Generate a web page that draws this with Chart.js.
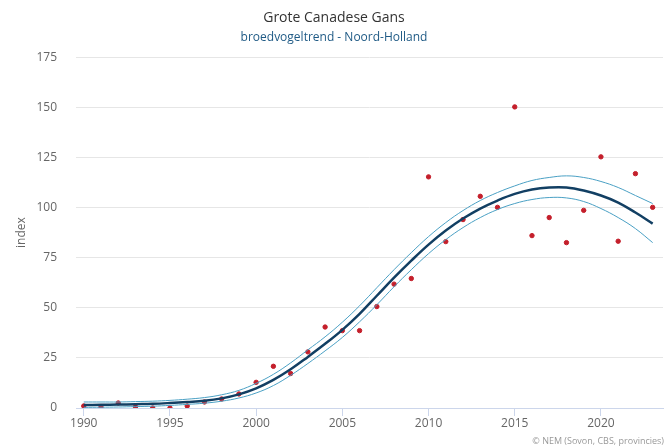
<!DOCTYPE html>
<html>
<head>
<meta charset="utf-8">
<script src="https://cdn.jsdelivr.net/npm/chart.js@4"></script>
<style>
  html, body { margin: 0; padding: 0; background: #fff; }
  #wrap { width: 668px; height: 448px; }
</style>
</head>
<body>
<div id="wrap"><canvas id="trendChart" width="668" height="448"></canvas></div>
<script>
"use strict";

const years = [1990, 1991, 1992, 1993, 1994, 1995, 1996, 1997, 1998, 1999,
  2000, 2001, 2002, 2003, 2004, 2005, 2006, 2007, 2008, 2009,
  2010, 2011, 2012, 2013, 2014, 2015, 2016, 2017, 2018, 2019,
  2020, 2021, 2022, 2023];

// counted index per year (red dots)
const counted = [1, 0.5, 2.5, 0.5, 0, 0, 1, 3, 4.5, 7,
  12.8, 20.8, 17.2, 28, 40.4, 38.6, 38.6, 50.6, 61.8, 64.6,
  115.3, 83, 94, 105.6, 100.1, 150.2, 86, 95, 82.5, 98.6,
  125.3, 83.2, 116.9, 100.1];

// smoothed trend and its confidence band
const trend = [1.5, 1.6, 1.7, 1.9, 2.1, 2.5, 3.0, 3.6, 4.8, 6.8,
  9.8, 14, 19.3, 25.5, 32, 39, 47, 56, 65, 73.5,
  81.5, 88.5, 94.5, 99.5, 103.5, 106.8, 109, 110, 110, 108.5,
  106, 102.5, 97.5, 92];
const upper = [3, 3, 3, 3.2, 3.4, 3.8, 4.4, 5.2, 6.6, 8.8,
  12.3, 16.8, 22.5, 29, 35.5, 42.8, 51, 60, 69, 77.5,
  85.5, 92.5, 98.5, 103.5, 107.5, 110.8, 113.5, 115, 115.8, 115,
  113, 110, 106, 102];
const lower = [0.3, 0.4, 0.5, 0.7, 0.9, 1.3, 1.8, 2.4, 3.4, 5,
  7.5, 11.2, 16.3, 22.2, 28.5, 35.2, 43, 51.5, 60.5, 69,
  77, 84, 90, 95, 99, 102, 104, 105, 104.8, 103,
  99.5, 95, 89.5, 82.5];

const xTicks = [1990, 1995, 2000, 2005, 2010, 2015, 2020];
const yTicks = [0, 25, 50, 75, 100, 125, 150, 175];

function pts(vals) {
  return years.map((y, i) => ({ x: y, y: vals[i] }));
}

const creditPlugin = {
  id: "credit",
  afterDraw(chart) {
    const ctx = chart.ctx;
    ctx.save();
    ctx.font = "9px 'Open Sans'";
    ctx.fillStyle = "#999999";
    ctx.textAlign = "right";
    ctx.textBaseline = "middle";
    ctx.fillText("\u00A9 NEM (Sovon, CBS, provincies)", 664, 441);
    ctx.restore();
  }
};

const bandStyle = {
  borderColor: "#4aa0c4",
  borderWidth: 1,
  pointRadius: 0,
  tension: 0.4,
  fill: false
};

const config = {
  type: "line",
  data: {
    datasets: [
      Object.assign({ label: "bovengrens", data: pts(upper) }, bandStyle),
      Object.assign({ label: "ondergrens", data: pts(lower) }, bandStyle),
      {
        label: "trend",
        data: pts(trend),
        borderColor: "#123f63",
        borderWidth: 2.5,
        pointRadius: 0,
        tension: 0.4,
        fill: false
      },
      {
        type: "scatter",
        label: "index",
        data: pts(counted),
        pointRadius: 2.2,
        pointBackgroundColor: "#c41f2b",
        pointBorderColor: "#c41f2b",
        showLine: false
      }
    ]
  },
  options: {
    responsive: false,
    animation: false,
    layout: { padding: { left: 0, right: 0, top: 0, bottom: 0 } },
    plugins: {
      legend: { display: false },
      tooltip: { enabled: false },
      title: {
        display: true,
        text: "Grote Canadese Gans",
        color: "#333333",
        font: { family: "'Open Sans'", size: 14, weight: "normal" },
        padding: { top: 10, bottom: 2 }
      },
      subtitle: {
        display: true,
        text: "broedvogeltrend - Noord-Holland",
        color: "#1f5a85",
        font: { family: "'Open Sans'", size: 12, weight: "normal" },
        padding: { top: 2, bottom: 12 }
      }
    },
    scales: {
      x: {
        type: "linear",
        min: 1989.55,
        max: 2023.6,
        afterBuildTicks(axis) {
          axis.ticks = xTicks.map(v => ({ value: v }));
        },
        afterFit(axis) { axis.height = 40; },
        grid: {
          drawOnChartArea: false,
          drawTicks: true,
          tickLength: 8,
          color: "#ccd6eb"
        },
        border: { color: "#ccd6eb" },
        ticks: {
          color: "#666666",
          font: { family: "'Open Sans'", size: 12 },
          padding: 0,
          maxRotation: 0,
          callback: v => String(v)
        }
      },
      y: {
        min: 0,
        max: 175,
        afterBuildTicks(axis) {
          axis.ticks = yTicks.map(v => ({ value: v }));
        },
        afterFit(axis) { axis.width = 76; },
        grid: { color: "#e6e6e6", drawTicks: false },
        border: { display: false },
        title: {
          display: true,
          text: "index",
          color: "#666666",
          font: { family: "'Open Sans'", size: 12 },
          padding: { top: 14, bottom: 0 }
        },
        ticks: {
          color: "#666666",
          font: { family: "'Open Sans'", size: 12 },
          padding: 19
        }
      }
    }
  },
  plugins: [creditPlugin]
};

const trendChart = new Chart(document.getElementById("trendChart"), config);
</script>
</body>
</html>
